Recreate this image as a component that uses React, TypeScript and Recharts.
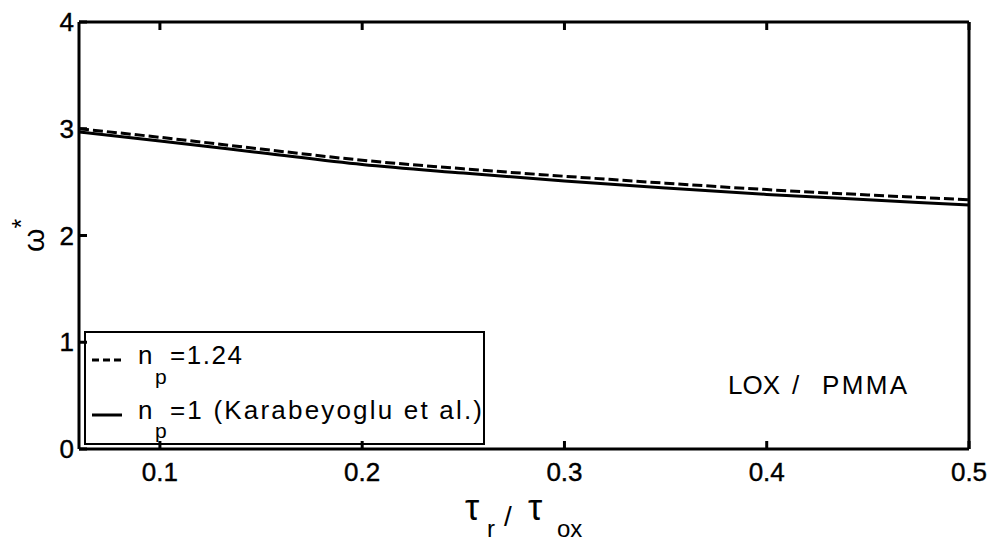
import React from "react";
import { LineChart, Line, XAxis, YAxis, Customized } from "recharts";

const xValues = [0.06, 0.1, 0.15, 0.2, 0.25, 0.3, 0.35, 0.4, 0.45, 0.5];
const np124 = [3.0, 2.92, 2.81, 2.705, 2.625, 2.555, 2.49, 2.43, 2.38, 2.335];
const np1 = [2.97, 2.885, 2.775, 2.665, 2.585, 2.51, 2.445, 2.385, 2.335, 2.285];
const xTicks = [0.1, 0.2, 0.3, 0.4, 0.5];
const yTicks = [0, 1, 2, 3, 4];
const legendLabels = ["=1.24", "=1 (Karabeyoglu et al.)"];

const data = xValues.map((x, i) => ({ x, a: np124[i], b: np1[i] }));

const FONT = "'Liberation Sans', Arial, sans-serif";
const TICK_FS = 26;

const BottomTick = (p: any) => (
  <g>
    <line x1={p.x} x2={p.x} y1={p.y} y2={p.y - 8} stroke="#000" strokeWidth={3} />
    <text x={p.x} y={p.y + 32} textAnchor="middle" fontSize={TICK_FS} fontFamily={FONT} fill="#000" stroke="#000" strokeWidth={0.4}>
      {p.payload.value}
    </text>
  </g>
);
const LeftTick = (p: any) => (
  <g>
    <line x1={p.x} x2={p.x + 8} y1={p.y} y2={p.y} stroke="#000" strokeWidth={3} />
    <text x={p.x - 5} y={p.y + 9} textAnchor="end" fontSize={TICK_FS} fontFamily={FONT} fill="#000" stroke="#000" strokeWidth={0.4}>
      {p.payload.value}
    </text>
  </g>
);
const TopTick = (p: any) => (
  <line x1={p.x} x2={p.x} y1={p.y} y2={p.y + 8} stroke="#000" strokeWidth={3} />
);
const RightTick = (p: any) => (
  <line x1={p.x} x2={p.x - 8} y1={p.y} y2={p.y} stroke="#000" strokeWidth={3} />
);

const Annotations = () => (
  <g fontFamily={FONT} fill="#000">
    {/* legend */}
    <rect x={85} y={332} width={399} height={112} fill="#fff" stroke="#000" strokeWidth={2} />
    <line x1={92} x2={122} y1={360} y2={360} stroke="#000" strokeWidth={3} strokeDasharray="7 4" />
    <text x={138} y={364} fontSize={26}>n</text>
    <text x={155} y={384} fontSize={21}>p</text>
    <text x={170} y={364} fontSize={26} textLength={72} lengthAdjust="spacing">{legendLabels[0]}</text>
    <line x1={92} x2={122} y1={415} y2={415} stroke="#000" strokeWidth={3} />
    <text x={138} y={419} fontSize={26}>n</text>
    <text x={155} y={438} fontSize={21}>p</text>
    <text x={170} y={419} fontSize={26} textLength={312} lengthAdjust="spacing">{legendLabels[1]}</text>

    {/* material label */}
    <text x={728} y={394} fontSize={26} textLength={52} lengthAdjust="spacing">LOX</text>
    <text x={792} y={394} fontSize={26}>/</text>
    <text x={822} y={394} fontSize={26} textLength={85} lengthAdjust="spacing">PMMA</text>

    {/* x axis title */}
    <text x={465} y={520} fontSize={36}>τ</text>
    <text x={487} y={537} fontSize={24}>r</text>
    <text x={504} y={526} fontSize={28}>/</text>
    <text x={528} y={520} fontSize={36}>τ</text>
    <text x={557} y={537} fontSize={24}>ox</text>

    {/* y axis title */}
    <text transform="translate(44, 252) rotate(-90)" fontSize={30}>
      ω<tspan dy={-14} fontSize={25}>*</tspan>
    </text>
  </g>
);

export default function App() {
  return (
    <div style={{ position: "absolute", left: 0, top: 0, background: "#fff" }}>
      <LineChart width={993} height={542} data={data} margin={{ top: 0, right: 0, bottom: 0, left: 0 }}>
        <XAxis
          dataKey="x"
          type="number"
          domain={[0.06, 0.5]}
          ticks={xTicks}
          allowDataOverflow
          height={93}
          tickSize={0}
          tickMargin={0}
          tickLine={false}
          axisLine={{ stroke: "#000", strokeWidth: 3 }}
          tick={BottomTick}
        />
        <XAxis
          xAxisId="top"
          orientation="top"
          dataKey="x"
          type="number"
          domain={[0.06, 0.5]}
          ticks={xTicks}
          allowDataOverflow
          height={22}
          tickSize={0}
          tickMargin={0}
          tickLine={false}
          axisLine={{ stroke: "#000", strokeWidth: 3 }}
          tick={TopTick}
        />
        <YAxis
          type="number"
          domain={[0, 4]}
          ticks={yTicks}
          width={79}
          tickSize={0}
          tickMargin={0}
          tickLine={false}
          axisLine={{ stroke: "#000", strokeWidth: 3 }}
          tick={LeftTick}
        />
        <YAxis
          yAxisId="right"
          orientation="right"
          type="number"
          domain={[0, 4]}
          ticks={yTicks}
          width={24}
          tickSize={0}
          tickMargin={0}
          tickLine={false}
          axisLine={{ stroke: "#000", strokeWidth: 3 }}
          tick={RightTick}
        />
        <Line
          dataKey="b"
          type="monotone"
          stroke="#000"
          strokeWidth={3}
          dot={false}
          isAnimationActive={false}
        />
        <Line
          dataKey="a"
          type="monotone"
          stroke="#000"
          strokeWidth={3}
          strokeDasharray="10 4"
          dot={false}
          isAnimationActive={false}
        />
        <Customized component={Annotations} />
      </LineChart>
    </div>
  );
}
